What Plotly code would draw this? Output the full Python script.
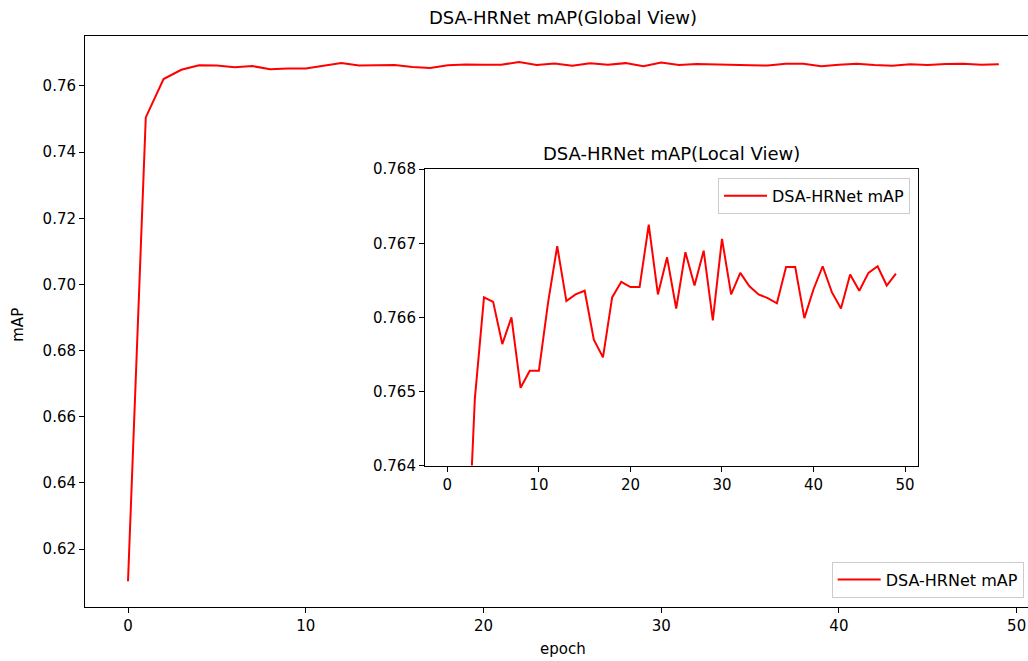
import plotly.graph_objects as go

epochs = list(range(50))
map_values = [
    0.6103, 0.7505, 0.7621, 0.7649, 0.76627, 0.76621, 0.76564, 0.76600, 0.76505, 0.76528,
    0.76528, 0.76620, 0.76696, 0.76622, 0.76631, 0.76636, 0.76570, 0.76546, 0.76627, 0.76648,
    0.76641, 0.76641, 0.76725, 0.76631, 0.76681, 0.76612, 0.76688, 0.76643, 0.76690, 0.76596,
    0.76706, 0.76631, 0.76660, 0.76642, 0.76631, 0.76626, 0.76619, 0.76668, 0.76668, 0.76599,
    0.76638, 0.76669, 0.76634, 0.76612, 0.76658, 0.76636, 0.76660, 0.76669, 0.76643, 0.76659,
]
series_name = "DSA-HRNet mAP"
main_title = "DSA-HRNet mAP(Global View)"
inset_title = "DSA-HRNet mAP(Local View)"
main_yticks = [0.62, 0.64, 0.66, 0.68, 0.70, 0.72, 0.74, 0.76]
inset_yticks = [0.764, 0.765, 0.766, 0.767, 0.768]
xticks = [0, 10, 20, 30, 40, 50]

FONT = "DejaVu Sans"
TICK = 15
LEG = 16

fig = go.Figure()
fig.add_trace(go.Scatter(x=epochs, y=map_values, mode="lines", name=series_name,
                         line=dict(color="red", width=2), legend="legend",
                         xaxis="x", yaxis="y"))
fig.add_trace(go.Scatter(x=epochs, y=map_values, mode="lines", name=series_name,
                         line=dict(color="red", width=2), legend="legend2",
                         xaxis="x2", yaxis="y2"))

axis_common = dict(showgrid=False, zeroline=False, showline=True, linecolor="black",
                   linewidth=1, ticks="outside", ticklen=5, tickcolor="black",
                   tickfont=dict(family=FONT, size=TICK, color="black"))

legend_common = dict(bordercolor="#cccccc", borderwidth=1,
                     bgcolor="rgba(255,255,255,0.8)", itemwidth=43,
                     entrywidth=150, entrywidthmode="pixels",
                     font=dict(family=FONT, size=LEG, color="black"))

fig.update_layout(
    width=1028, height=661,
    margin=dict(l=85, r=0, t=36, b=54, autoexpand=False),
    paper_bgcolor="white", plot_bgcolor="white",
    font=dict(family=FONT, size=TICK, color="black"),
    title=dict(text=main_title, x=563 / 1028, xanchor="center", y=1 - 18 / 661,
               yanchor="middle", font=dict(family=FONT, size=18, color="black")),
    xaxis=dict(domain=[0, 1], range=[-2.42, 50.64], tickvals=xticks, mirror=True,
               anchor="y", **axis_common),
    yaxis=dict(domain=[0, 1], range=[0.6025, 0.7751], tickvals=main_yticks,
               tickformat=".2f", mirror=False, anchor="x", **axis_common),
    xaxis2=dict(domain=[0.3605, 0.8837], range=[-2.45, 51.45], tickvals=xticks,
                mirror=True, anchor="y2", **axis_common),
    yaxis2=dict(domain=[0.2476, 0.7668], range=[0.764, 0.768], tickvals=inset_yticks,
                tickformat=".3f", mirror=True, anchor="x2", **axis_common),
    legend=dict(x=0.7918, y=0.0166, xanchor="left", yanchor="bottom", **legend_common),
    legend2=dict(x=0.8749, y=0.7515, xanchor="right", yanchor="top", **legend_common),
    showlegend=True,
)

fig.add_annotation(text=inset_title, xref="paper", yref="paper", x=0.6222, y=0.7944,
                   xanchor="center", yanchor="middle", showarrow=False,
                   font=dict(family=FONT, size=18, color="black"))
fig.add_annotation(text="mAP", xref="paper", yref="paper", x=(18 - 85) / 943,
                   y=(607.5 - 325) / 571.5, textangle=-90, xanchor="center",
                   yanchor="middle", showarrow=False,
                   font=dict(family=FONT, size=TICK, color="black"))
fig.add_annotation(text="epoch", xref="paper", yref="paper", x=(563 - 85) / 943,
                   y=(607.5 - 650) / 571.5, xanchor="center", yanchor="middle",
                   showarrow=False, font=dict(family=FONT, size=TICK, color="black"))

fig.write_html("out.html")
